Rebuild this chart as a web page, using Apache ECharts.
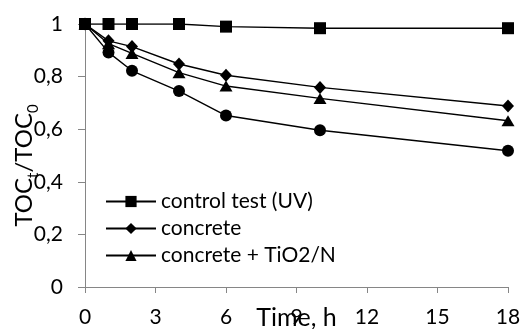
<!DOCTYPE html>
<html>
<head>
<meta charset="utf-8">
<script src="https://cdn.jsdelivr.net/npm/echarts@6/dist/echarts.min.js"></script>
<style>
html,body{margin:0;padding:0;background:#fff;}
#c{width:523px;height:329px;}
</style>
</head>
<body>
<div id="c"></div>
<script>
const times = [0, 1, 2, 4, 6, 10, 18];
const controlUV = [1, 1, 1, 1, 0.99, 0.984, 0.984];
const concrete = [1, 0.936, 0.914, 0.848, 0.805, 0.759, 0.688];
const concreteTiO2N = [1, 0.925, 0.888, 0.815, 0.764, 0.717, 0.632];
const fourth = [1, 0.892, 0.822, 0.745, 0.652, 0.596, 0.518];
const xTicks = [0, 3, 6, 9, 12, 15, 18];
const yTicks = [0, 0.2, 0.4, 0.6, 0.8, 1];

const FONT = 'Lato';
function pts(arr){ return times.map((t,i)=>[t, arr[i]]); }
function mk(name, data, symbol, size){
  return {
    name, type:'line', data: pts(data), symbol, symbolSize: size,
    lineStyle:{color:'#000', width:1.4},
    itemStyle:{color:'#000'},
    emphasis:{disabled:true}, animation:false, z: 2
  };
}
const chart = echarts.init(document.getElementById('c'));
chart.setOption({
  animation:false,
  backgroundColor:'#fff',
  grid:{left:85, right:15, top:24, bottom:42, containLabel:false, outerBoundsMode:'none'},
  legend:{
    data:['control test (UV)','concrete','concrete + TiO2/N'],
    orient:'vertical', left:100, top:186,
    itemWidth:50, itemHeight:14, itemGap:6,
    textStyle:{fontFamily:FONT, fontSize:21, color:'#000', lineHeight:21},
    selectedMode:false
  },
  xAxis:{
    type:'value', min:0, max:18, interval:3,
    axisLine:{lineStyle:{color:'#868686', width:1}},
    axisTick:{show:true, inside:false, length:6, lineStyle:{color:'#868686'}},
    splitLine:{show:false},
    axisLabel:{fontFamily:FONT, fontSize:21, color:'#000', margin:20},
    name:'Time, h', nameLocation:'middle', nameGap:18, nameMoveOverlap:false,
    nameTextStyle:{fontFamily:FONT, fontSize:25, color:'#000'}
  },
  yAxis:{
    type:'value', min:0, max:1, interval:0.2,
    axisLine:{show:true, lineStyle:{color:'#868686', width:1}},
    axisTick:{show:true, inside:false, length:7, lineStyle:{color:'#868686'}},
    splitLine:{show:false},
    axisLabel:{fontFamily:FONT, fontSize:21, color:'#000', margin:22,
      formatter: v => (v===0||v===1) ? String(v) : v.toFixed(1).replace('.', ',')},
    name:'{a|TOC}{s|t}{a|/TOC}{s|0}', nameLocation:'middle', nameGap:49, nameRotate:90, nameMoveOverlap:false,
    nameTextStyle:{fontFamily:FONT, color:'#000', padding:[0,20,0,0],
      rich:{
        a:{fontFamily:FONT, fontSize:24, lineHeight:24, color:'#000'},
        s:{fontFamily:FONT, fontSize:15, lineHeight:15, padding:[19,0,0,0], color:'#000'}
      }}
  },
  series:[
    mk('control test (UV)', controlUV, 'rect', 12),
    mk('concrete', concrete, 'diamond', [12,13]),
    mk('concrete + TiO2/N', concreteTiO2N, 'triangle', [13,11]),
    mk('fourth', fourth, 'circle', 12)
  ]
});
</script>
</body>
</html>
